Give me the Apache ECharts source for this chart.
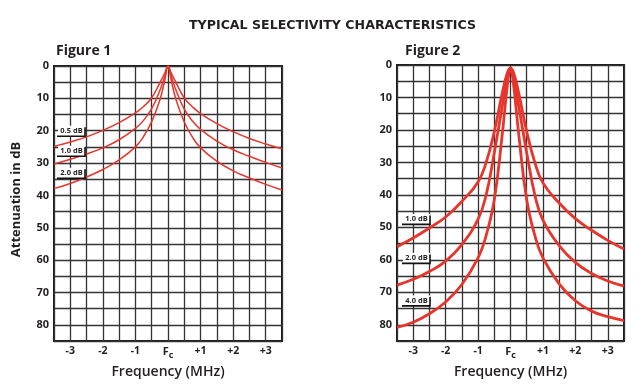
<!DOCTYPE html>
<html><head><meta charset="utf-8">
<script src="https://cdn.jsdelivr.net/npm/echarts@6/dist/echarts.min.js"></script>
<style>html,body{margin:0;padding:0;background:#fff}#c{width:644px;height:389px}</style>
</head><body><div id="c"></div>
<script>
// ---- data ----
const freqMHz = [-3.5,-3,-2.5,-2,-1.5,-1,-0.75,-0.5,-0.25,-0.1,0,0.1,0.25,0.5,0.75,1,1.5,2,2.5,3,3.5];
const fig1Levels = ['0.5 dB','1.0 dB','2.0 dB'];
const fig1Att05 = [24.9,23.5,21.9,19.9,17.5,14.5,12.5,9.8,5.2,2.2,0,2.2,5.2,9.9,12.6,14.7,17.8,20.3,22.4,24.1,25.6];
const fig1Att10 = [30.3,28.8,27.2,25.3,22.8,19.3,16.8,13.2,7.6,3.2,0,3.2,7.6,13.3,17.0,19.6,23.2,25.9,27.9,29.8,31.5];
const fig1Att20 = [37.9,36.3,34.3,32.0,29.0,25.0,21.8,17.2,10.5,4.5,0,4.5,10.5,17.3,22.0,25.3,29.4,32.4,34.6,36.6,38.3];
const fig2Levels = ['1.0 dB','2.0 dB','4.0 dB'];
const fig2Att10 = [56.0,53.3,50.2,46.8,42.0,36.0,30.0,20.5,8.5,2.5,1,2.5,8.5,20.5,30.0,36.3,42.5,47.3,50.9,54.0,56.7];
const fig2Att20 = [67.8,66.0,63.6,60.4,55.3,47.5,40.0,27.0,12.5,4.0,1,4.0,12.5,27.0,40.0,47.8,55.6,60.8,64.2,66.5,68.1];
const fig2Att40 = [80.8,79.2,76.6,73.0,67.6,59.4,52.5,41.5,21.0,6.5,1,6.5,21.0,41.5,52.5,59.4,67.4,72.6,75.8,77.5,78.7];
const xTickLabels = ['-3','-2','-1','Fc','+1','+2','+3'];
const yTickLabels = ['0','10','20','30','40','50','60','70','80'];
// label anchors (attenuation value at left edge)
const fig1LabelAt = [20, 26.2, 33];
const fig2LabelAt = [47.4, 59.4, 72.5];

const FONT = '"Open Sans", "Liberation Sans", sans-serif';
const chart = echarts.init(document.getElementById('c'));
const pair = arr => arr.map((v,i)=>[freqMHz[i], v]);

function xAxis(idx){
  return {
    type:'value', gridIndex:idx, min:-3.5, max:3.5, interval:0.5,
    name:'Frequency (MHz)', nameLocation:'middle', nameGap:14,
    nameTextStyle:{fontFamily:FONT, fontSize:14, fontWeight:600, color:'#231f20'},
    axisLine:{show:false}, axisTick:{show:false},
    splitLine:{show:true, lineStyle:{color:'#333', width:1.3}},
    axisLabel:{
      margin:5, fontFamily:FONT, fontSize:10.5, fontWeight:'bold', color:'#231f20',
      showMinLabel:false, showMaxLabel:false,
      formatter:v=>{
        if (Math.abs(v-Math.round(v))>1e-6 || Math.abs(v)>3) return '';
        const i = Math.round(v)+3;
        return i===3 ? '{f|F}{s|c}' : xTickLabels[i];
      },
      rich:{
        f:{fontFamily:FONT, fontSize:11, fontWeight:'bold', color:'#231f20', padding:[0,0,4,0]},
        s:{fontFamily:FONT, fontSize:9, fontWeight:'bold', color:'#231f20', padding:[4,0,0,0]}
      }
    }
  };
}
function yAxis(idx, name){
  return {
    type:'value', gridIndex:idx, inverse:true, min:0, max:85, interval:5,
    name:name, nameLocation:'middle', nameGap:31,
    nameTextStyle:{fontFamily:FONT, fontSize:13, fontWeight:'bold', color:'#231f20', padding:[0,0,0,8]},
    axisLine:{show:false}, axisTick:{show:false},
    splitLine:{show:true, lineStyle:{color:'#333', width:1.3}},
    axisLabel:{
      margin:5, fontFamily:FONT, fontSize:11, fontWeight:'bold', color:'#231f20',
      formatter:v=> (v%10===0 && v/10 < yTickLabels.length) ? yTickLabels[v/10] : ''
    }
  };
}
function series(idx, name, arr, w){
  return {type:'line', name:name, xAxisIndex:idx, yAxisIndex:idx, data:pair(arr),
    showSymbol:false, smooth:0.45, z:3,
    lineStyle:{color:'#e8352b', width:w}, silent:true};
}

chart.setOption({
  animation:false,
  backgroundColor:'#fff',
  title:[
    {text:'TYPICAL SELECTIVITY CHARACTERISTICS', left:184, top:14,
     textStyle:{fontFamily:'"DejaVu Sans", sans-serif', fontSize:12.6, fontWeight:'bold', color:'#231f20'}},
    {text:'Figure 1', left:51, top:39, textStyle:{fontFamily:FONT, fontSize:14, fontWeight:'bold', color:'#231f20'}},
    {text:'Figure 2', left:400, top:39, textStyle:{fontFamily:FONT, fontSize:14, fontWeight:'bold', color:'#231f20'}}
  ],
  grid:[
    {left:54, top:66, width:228, height:275, show:true, borderColor:'#1a1a1a', borderWidth:2, backgroundColor:'transparent'},
    {left:397, top:65, width:227, height:276, show:true, borderColor:'#1a1a1a', borderWidth:2, backgroundColor:'transparent'}
  ],
  xAxis:[xAxis(0), xAxis(1)],
  yAxis:[yAxis(0,'Attenuation in dB'), yAxis(1,'')],
  series:[
    series(0, fig1Levels[0], fig1Att05, 1.5),
    series(0, fig1Levels[1], fig1Att10, 1.5),
    series(0, fig1Levels[2], fig1Att20, 1.5),
    series(1, fig2Levels[0], fig2Att10, 2.8),
    series(1, fig2Levels[1], fig2Att20, 2.8),
    series(1, fig2Levels[2], fig2Att40, 2.8)
  ]
});

function labelGraphics(gridIndex, levels, anchors, dx0, w){
  const out = [];
  levels.forEach((txt,i)=>{
    const p = chart.convertToPixel({gridIndex:gridIndex}, [-3.5, anchors[i]]);
    const x0 = p[0]+dx0, cy = p[1];
    out.push({type:'rect', shape:{x:x0, y:cy-5, width:w, height:10.5}, style:{fill:'#fff'}, z:10});
    out.push({type:'text', x:x0+w/2, y:cy, z:11,
      style:{text:txt, fontFamily:FONT, fontSize:7.5, fontWeight:'bold', fill:'#231f20', align:'center', verticalAlign:'middle'}});
    out.push({type:'polyline', z:11, shape:{points:[[x0-1,cy+5.5],[x0+w,cy+5.5],[x0+w,cy-3.5]]},
      style:{stroke:'#111', lineWidth:1.6, fill:null}});
  });
  return out;
}
chart.setOption({graphic: labelGraphics(0, fig1Levels, fig1LabelAt, 4, 27).concat(labelGraphics(1, fig2Levels, fig2LabelAt, 6, 27))});
</script></body></html>
